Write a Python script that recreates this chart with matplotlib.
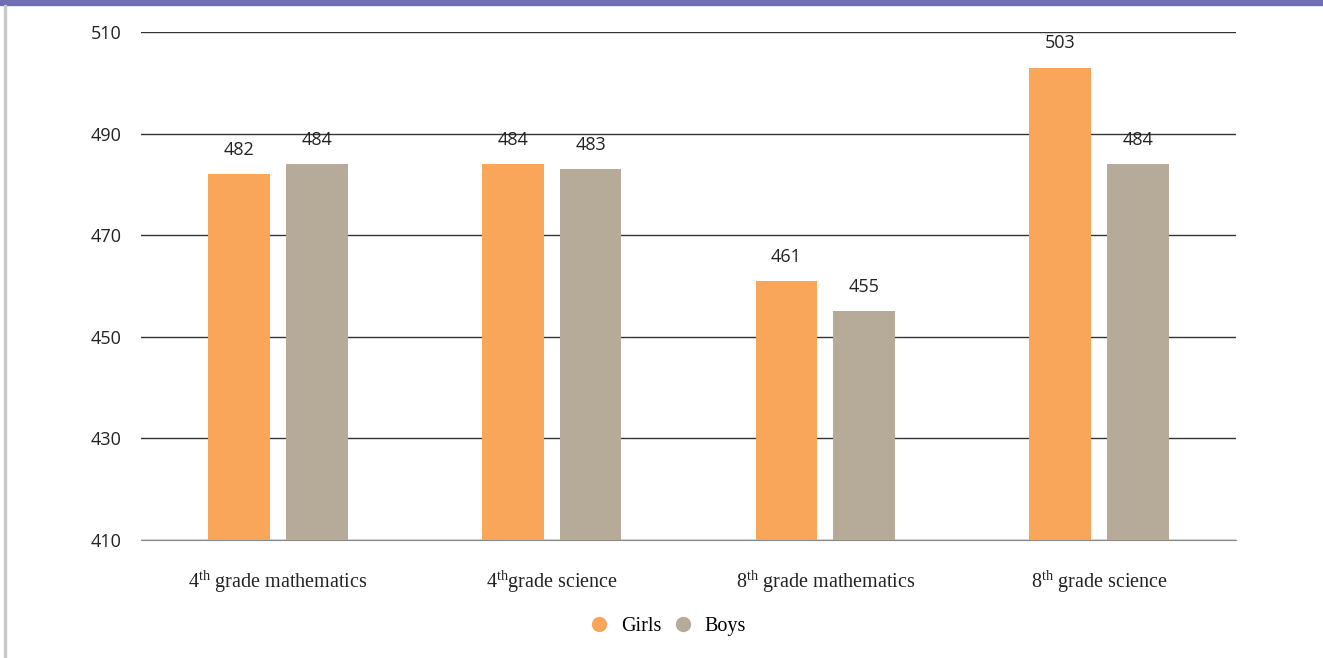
import matplotlib.pyplot as plt
import numpy as np
from matplotlib.lines import Line2D
from matplotlib.patches import Rectangle

plt.rcParams["mathtext.fontset"] = "custom"
plt.rcParams["mathtext.rm"] = "Liberation Serif"

categories = [
    r"$\mathrm{4^{th}}$ grade mathematics",
    r"$\mathrm{4^{th}}$grade science",
    r"$\mathrm{8^{th}}$ grade mathematics",
    r"$\mathrm{8^{th}}$ grade science",
]
girls = [482, 484, 461, 503]
boys = [484, 483, 455, 484]
series = ["Girls", "Boys"]
colors = ["#F9A65A", "#B6AA98"]
yticks = [410, 430, 450, 470, 490, 510]

fig = plt.figure(figsize=(13.23, 6.58), dpi=100)
ax = fig.add_axes([0.1066, 0.1793, 0.8277, 0.7721])

# frame decorations
fig.patches.append(Rectangle((0, 1 - 5 / 658), 1, 5 / 658, transform=fig.transFigure,
                             color="#6F6DB3", zorder=0))
fig.patches.append(Rectangle((3.5 / 1323, 0), 2 / 1323, 1 - 5 / 658, transform=fig.transFigure,
                             color="#C8C8C8", zorder=0))

x = np.arange(len(categories))
w = 0.226
off = 0.142
for vals, sign, col in [(girls, -1, colors[0]), (boys, 1, colors[1])]:
    bars = ax.bar(x + sign * off, np.array(vals) - 410, width=w, bottom=410, color=col, zorder=3)
    for b, v in zip(bars, vals):
        ax.annotate(str(v), (b.get_x() + b.get_width() / 2, v), xytext=(0, 11),
                    textcoords="offset points", ha="center", va="bottom",
                    fontsize=13, family="Open Sans", color="#222222")

ax.set_xlim(-0.5, 3.5)
ax.set_ylim(410, 510)
ax.set_yticks(yticks)
ax.set_yticklabels([str(t) for t in yticks], family="Open Sans", fontsize=13, color="#222222")
ax.set_xticks(x)
ax.set_xticklabels(categories, family="Liberation Serif", fontsize=14.5, color="#222222")
ax.tick_params(axis="y", length=0, pad=14)
ax.tick_params(axis="x", length=0, pad=21)
ax.grid(axis="y", color="#333333", linewidth=1, zorder=0)
for s in ["top", "right", "left"]:
    ax.spines[s].set_visible(False)
ax.spines["bottom"].set_color("#888888")

handles = [Line2D([], [], marker="o", linestyle="", markersize=10, color=c) for c in colors]
fig.legend(handles, series, loc="center", bbox_to_anchor=(0.5045, 0.048), ncol=2, frameon=False,
           prop={"family": "Liberation Serif", "size": 14.5}, handlelength=1.0,
           handletextpad=0.6, columnspacing=0.55)

fig.savefig("out.png", dpi=100)
